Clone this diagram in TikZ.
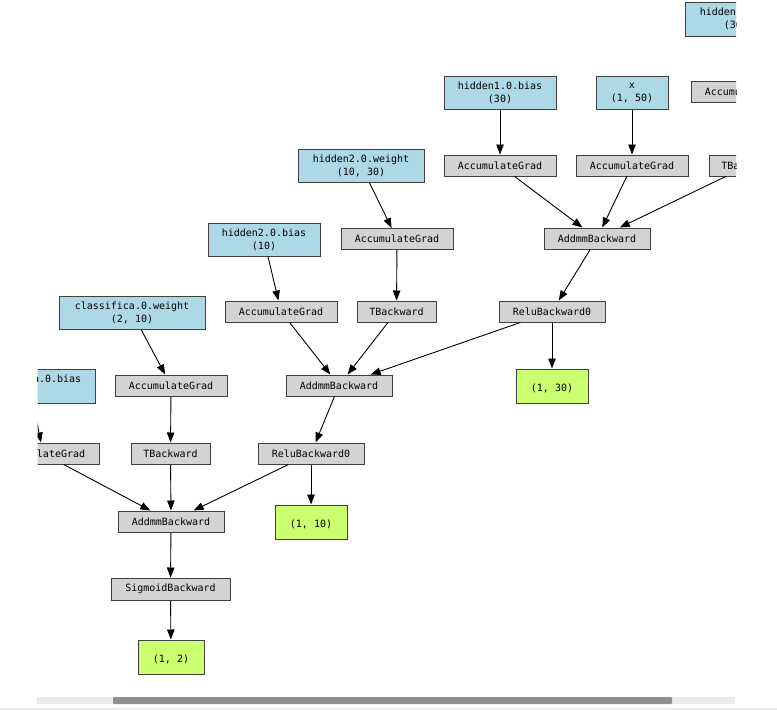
\documentclass[tikz,border=0pt]{standalone}
\usepackage{fontspec}
\newfontfamily\gvfont{DejaVu Sans Mono}
\usetikzlibrary{arrows.meta}
\definecolor{lb}{HTML}{ADD8E6}
\definecolor{lg}{HTML}{D3D3D3}
\definecolor{gn}{HTML}{CAFF70}
\definecolor{track}{HTML}{EBEBEB}
\definecolor{thumb}{HTML}{8E8E8E}
\tikzset{
  gvbase/.style={draw=black!75, line width=1pt, inner sep=0pt, align=center,
    font=\gvfont\fontsize{10}{13}\selectfont},
  param/.style={gvbase, fill=lb, minimum height=33pt},
  opn/.style={gvbase, fill=lg, minimum height=21pt},
  outn/.style={gvbase, fill=gn, minimum height=34pt},
  edge/.style={draw=black, line width=0.9pt, -{Triangle[length=10pt,width=7.5pt]}}
}
\begin{document}
\begin{tikzpicture}[x=1pt,y=-1pt]
\useasboundingbox (0,0) rectangle (777,710);
\fill[white] (0,0) rectangle (777,710);
\begin{scope}
\clip (37.5,0) rectangle (736,690);
% nodes
\node[param, minimum width=126pt, minimum height=34pt] (hw1) at (748,19) {hidden1.0.weight\\(30, 50)};
\node[param, minimum width=112pt] (hb1) at (500,92.5) {hidden1.0.bias\\(30)};
\node[param, minimum width=72pt] (xin) at (632,92.5) {x\\(1, 50)};
\node[opn, minimum width=112pt] (ag1w) at (747,92) {AccumulateGrad};
\node[opn, minimum width=112pt] (ag1b) at (500,165.5) {AccumulateGrad};
\node[opn, minimum width=112pt] (agx) at (632,165.5) {AccumulateGrad};
\node[opn, minimum width=79pt] (tb1) at (748.5,165.5) {TBackward};
\node[opn, minimum width=106pt] (ad1) at (597,238.5) {AddmmBackward};
\node[opn, minimum width=106pt] (re1) at (552,311.5) {ReluBackward0};
\node[outn, minimum width=72pt] (o30) at (552,386) {\mbox{}\\(1, 30)};
\node[param, minimum width=126pt] (hw2) at (361,165.5) {hidden2.0.weight\\(10, 30)};
\node[opn, minimum width=112pt] (ag2w) at (397,239) {AccumulateGrad};
\node[opn, minimum width=79pt] (tb2) at (396.5,311.5) {TBackward};
\node[param, minimum width=112pt] (hb2) at (264,239.5) {hidden2.0.bias\\(10)};
\node[opn, minimum width=112pt] (ag2b) at (281,311.5) {AccumulateGrad};
\node[opn, minimum width=106pt] (ad2) at (339,385.5) {AddmmBackward};
\node[opn, minimum width=106pt] (re2) at (311,453.5) {ReluBackward0};
\node[outn, minimum width=72pt] (o10) at (311,522) {\mbox{}\\(1, 10)};
\node[param, minimum width=146pt] (cw) at (132,312.5) {classifica.0.weight\\(2, 10)};
\node[opn, minimum width=112pt] (ag3w) at (171,385.5) {AccumulateGrad};
\node[opn, minimum width=79pt] (tb3) at (170.5,453.5) {TBackward};
\node[param, minimum width=130pt, minimum height=34pt] (cb) at (30,386) {classifica.0.bias\\(2)};
\node[opn, minimum width=112pt] (ag3b) at (43,453.5) {AccumulateGrad};
\node[opn, minimum width=106pt] (ad3) at (171,521.5) {AddmmBackward};
\node[opn, minimum width=119pt, minimum height=22pt] (sg) at (170.5,589) {SigmoidBackward};
\node[outn, minimum width=66pt] (o2) at (171,657) {\mbox{}\\(1, 2)};
% edges
\draw[edge] (hw1) -- (ag1w);
\draw[edge] (ag1w) -- (tb1);
\draw[edge] (hb1) -- (ag1b);
\draw[edge] (xin) -- (agx);
\draw[edge] (ag1b) -- (ad1);
\draw[edge] (agx) -- (ad1);
\draw[edge] (tb1) -- (ad1);
\draw[edge] (ad1) -- (re1);
\draw[edge] (re1) -- (o30);
\draw[edge] (re1) -- (ad2);
\draw[edge] (hw2) -- (ag2w);
\draw[edge] (ag2w) -- (tb2);
\draw[edge] (hb2) -- (ag2b);
\draw[edge] (ag2b) -- (ad2);
\draw[edge] (tb2) -- (ad2);
\draw[edge] (ad2) -- (re2);
\draw[edge] (re2) -- (o10);
\draw[edge] (re2) -- (ad3);
\draw[edge] (cw) -- (ag3w);
\draw[edge] (ag3w) -- (tb3);
\draw[edge] (tb3) -- (ad3);
\draw[edge] (cb) -- (ag3b);
\draw[edge] (ag3b) -- (ad3);
\draw[edge] (ad3) -- (sg);
\draw[edge] (sg) -- (o2);
\end{scope}
% scrollbar
\fill[track] (37,697) rectangle (735,704);
\fill[thumb, rounded corners=1pt] (113,697) rectangle (672,704);
\fill[track] (0,708) rectangle (777,710);
\end{tikzpicture}
\end{document}
